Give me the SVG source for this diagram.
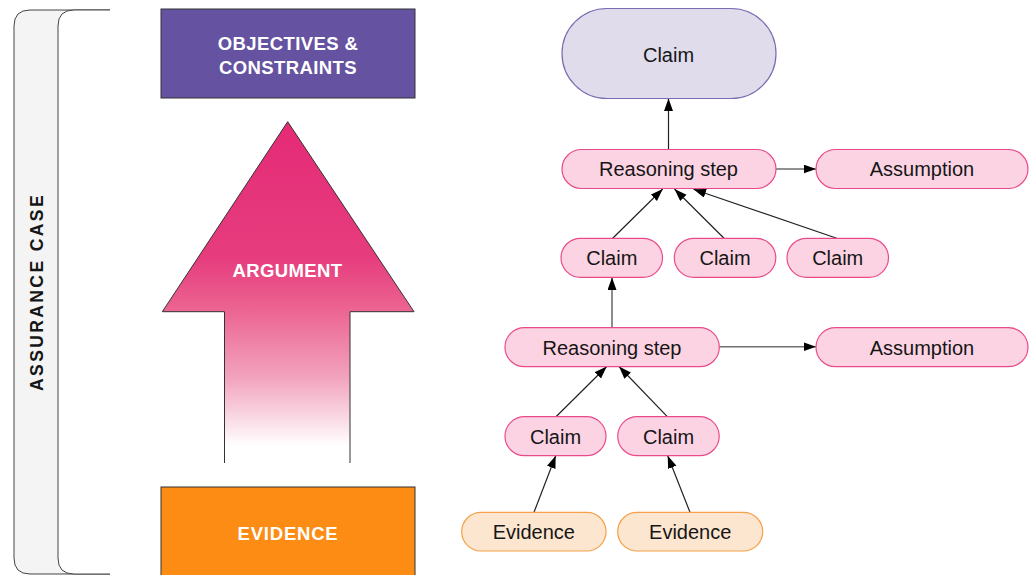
<svg xmlns="http://www.w3.org/2000/svg" width="1029" height="575" viewBox="0 0 1029 575">
<style>
.lbl{font-family:"Liberation Sans",Arial,sans-serif;font-weight:bold;fill:#ffffff;font-size:18.5px;letter-spacing:0.4px;text-anchor:middle}
.nt{font-family:"Liberation Sans",Arial,sans-serif;font-size:20px;fill:#161616;text-anchor:middle}
.pink{fill:#fcd3e3;stroke:#e94b8a;stroke-width:1.2}
.ev{fill:#fde6cf;stroke:#f5a04a;stroke-width:1.2}
.c{stroke:#222;stroke-width:1.2;fill:none;marker-end:url(#ah)}
.cg{stroke:#707070;stroke-width:1.6;fill:none;marker-end:url(#ah)}
</style>
<defs>
<marker id="ah" markerUnits="userSpaceOnUse" markerWidth="13" markerHeight="10" refX="12.5" refY="4.5" orient="auto">
<path d="M0,0 L12.5,4.5 L0,9 z" fill="#000"/>
</marker>
<linearGradient id="argG" gradientUnits="userSpaceOnUse" x1="0" y1="122" x2="0" y2="463">
<stop offset="0" stop-color="#e52a76"/>
<stop offset="0.4" stop-color="#e63d7e"/>
<stop offset="0.55" stop-color="#ec6491"/>
<stop offset="0.75" stop-color="#f2a3bd"/>
<stop offset="0.95" stop-color="#ffffff"/>
</linearGradient>
</defs>

<g id="assurance-case">
<path d="M110,10 H30 Q14,10 14,26 V558 Q14,574 30,574 H110" fill="#f4f4f4" stroke="#444" stroke-width="1"/>
<path d="M110,10 H74 Q58,10 58,26 V558 Q58,574 74,574 H110" fill="#ffffff" stroke="#444" stroke-width="1"/>
<text class="lbl" transform="translate(43,292) rotate(-90)" style="fill:#161616;font-size:17.5px;letter-spacing:2.4px">ASSURANCE CASE</text>
</g>

<g id="objectives">
<rect x="161" y="9" width="254" height="89" fill="#6552a0" stroke="#333" stroke-width="1"/>
<text class="lbl" x="288" y="50">OBJECTIVES &amp;</text>
<text class="lbl" x="288" y="74">CONSTRAINTS</text>
</g>

<g id="argument">
<path d="M224.5,463 V311.7 H162.3 L287.7,121.7 L414,311.7 H350 V463 Z" fill="url(#argG)"/>
<path d="M224.5,463 V311.7 H162.3 L287.7,121.7 L414,311.7 H350 V463" fill="none" stroke="#333" stroke-width="1"/>
<text class="lbl" x="287.5" y="277">ARGUMENT</text>
</g>

<g id="evidence">
<rect x="161" y="487" width="254" height="92" fill="#fd8c15" stroke="#333" stroke-width="1"/>
<text class="lbl" x="288" y="539.5" style="letter-spacing:0.8px">EVIDENCE</text>
</g>

<g id="connectors">
<line class="c" x1="668.5" y1="149.5" x2="668.5" y2="98.5"/>
<line class="c" x1="776" y1="169" x2="816" y2="169"/>
<line class="c" x1="612.7" y1="238.3" x2="662.7" y2="189"/>
<line class="c" x1="724" y1="238.3" x2="674.5" y2="189"/>
<line class="c" x1="836.7" y1="238.3" x2="693.5" y2="189.3"/>
<line class="cg" x1="612" y1="327.7" x2="612" y2="277.5"/>
<line class="cg" x1="719.3" y1="346.7" x2="816" y2="346.7"/>
<line class="c" x1="556" y1="416.7" x2="606.7" y2="366.5"/>
<line class="c" x1="667.3" y1="416.7" x2="619" y2="366.5"/>
<line class="c" x1="534" y1="512.3" x2="555.7" y2="455.7"/>
<line class="c" x1="690" y1="512.3" x2="667.7" y2="455.7"/>
</g>

<g id="claim-top">
<rect x="562" y="8.5" width="214" height="90" rx="45" fill="#e0dcec" stroke="#7b6bb0" stroke-width="1.2"/>
<text class="nt" x="668.5" y="61.5">Claim</text>
</g>
<g id="reasoning-1">
<rect class="pink" x="562" y="149.5" width="214" height="39" rx="19.5"/>
<text class="nt" x="668.5" y="176">Reasoning step</text>
</g>
<g id="assumption-1">
<rect class="pink" x="816" y="149.5" width="212" height="39" rx="19.5"/>
<text class="nt" x="922" y="176">Assumption</text>
</g>
<g id="claim-2a">
<rect class="pink" x="561" y="238.3" width="101.5" height="39" rx="19.5"/>
<text class="nt" x="611.8" y="265">Claim</text>
</g>
<g id="claim-2b">
<rect class="pink" x="674.3" y="238.3" width="101.5" height="39" rx="19.5"/>
<text class="nt" x="725" y="265">Claim</text>
</g>
<g id="claim-2c">
<rect class="pink" x="787" y="238.3" width="101.5" height="39" rx="19.5"/>
<text class="nt" x="837.7" y="265">Claim</text>
</g>
<g id="reasoning-2">
<rect class="pink" x="505" y="327.7" width="214.3" height="39" rx="19.5"/>
<text class="nt" x="612" y="354.5">Reasoning step</text>
</g>
<g id="assumption-2">
<rect class="pink" x="816" y="327.7" width="212" height="39" rx="19.5"/>
<text class="nt" x="922" y="354.5">Assumption</text>
</g>
<g id="claim-3a">
<rect class="pink" x="505" y="416.7" width="101" height="39" rx="19.5"/>
<text class="nt" x="555.5" y="443.5">Claim</text>
</g>
<g id="claim-3b">
<rect class="pink" x="617.7" y="416.7" width="101.5" height="39" rx="19.5"/>
<text class="nt" x="668.5" y="443.5">Claim</text>
</g>
<g id="evidence-a">
<rect class="ev" x="461.7" y="512.3" width="144.3" height="38.7" rx="19.3"/>
<text class="nt" x="533.8" y="539">Evidence</text>
</g>
<g id="evidence-b">
<rect class="ev" x="617.7" y="512.3" width="145" height="38.7" rx="19.3"/>
<text class="nt" x="690.2" y="539">Evidence</text>
</g>
</svg>
